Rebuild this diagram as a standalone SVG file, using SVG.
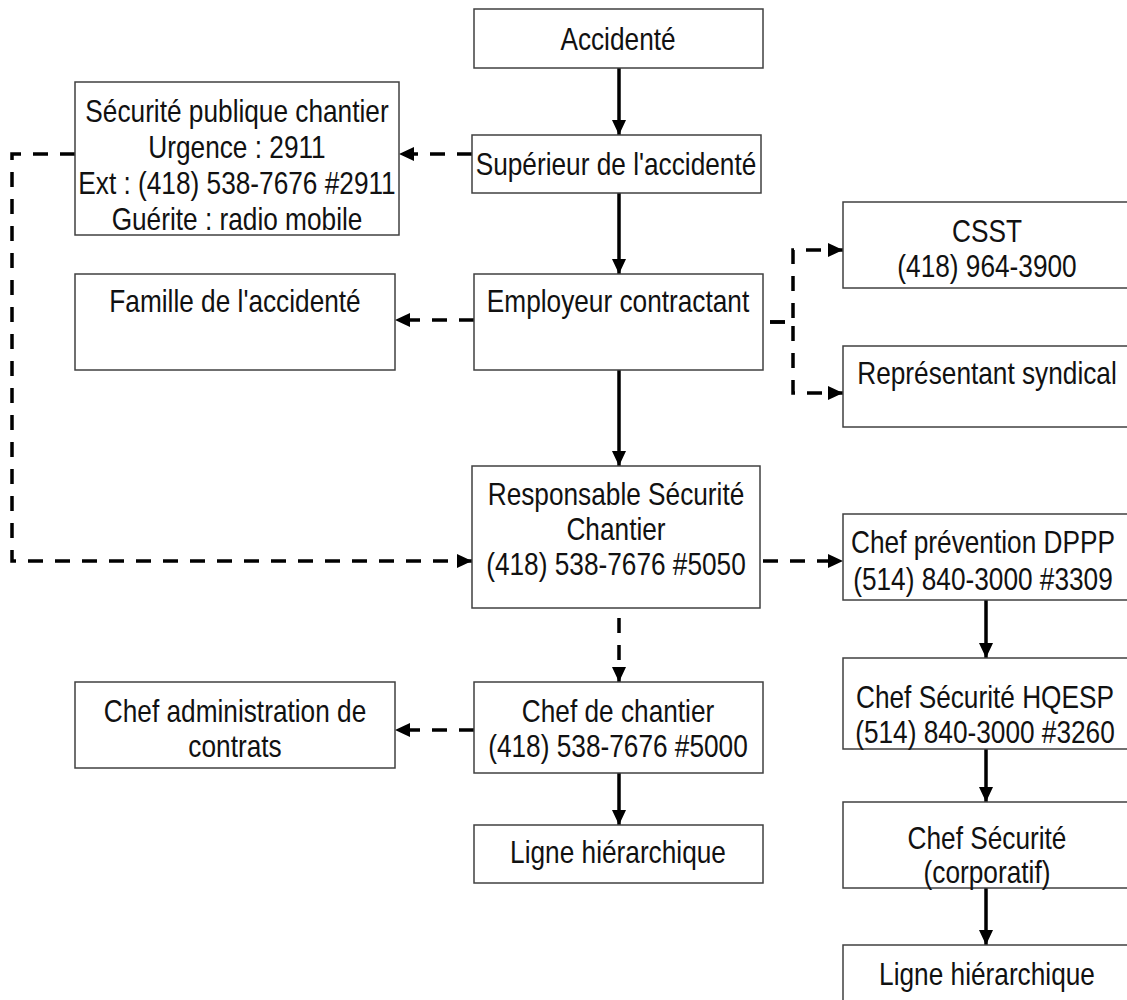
<svg xmlns="http://www.w3.org/2000/svg" width="1127" height="1000" viewBox="0 0 1127 1000">
<style>
.box{fill:#fff;stroke:#404040;stroke-width:1.5}
.t{font-family:"Liberation Sans",Arial,sans-serif;font-size:32px;fill:#111;text-anchor:middle}
.s{fill:none;stroke:#000;stroke-width:3.5}
.d{fill:none;stroke:#000;stroke-width:3.5;stroke-dasharray:15 12}
</style>
<defs>
<marker id="ah" viewBox="0 0 15 14" refX="15" refY="7" markerWidth="15" markerHeight="14" markerUnits="userSpaceOnUse" orient="auto">
<path d="M0,0 L15,7 L0,14 z" fill="#000"/>
</marker>
</defs>
<rect width="1127" height="1000" fill="#fff"/>
<g id="connectors">
<line class="s" x1="619" y1="68" x2="619" y2="135" marker-end="url(#ah)"/>
<line class="s" x1="619" y1="193" x2="619" y2="274" marker-end="url(#ah)"/>
<line class="s" x1="619" y1="370" x2="619" y2="466" marker-end="url(#ah)"/>
<line class="d" x1="619" y1="618" x2="619" y2="682" marker-end="url(#ah)"/>
<line class="s" x1="619" y1="773" x2="619" y2="825" marker-end="url(#ah)"/>
<line class="d" x1="472" y1="154" x2="399" y2="154" marker-end="url(#ah)"/>
<path class="d" d="M75,154 H12 V561 H472" marker-end="url(#ah)"/>
<line class="d" x1="474" y1="320" x2="395" y2="320" marker-end="url(#ah)"/>
<path class="d" d="M770,322 H793 V250 H843" marker-end="url(#ah)"/>
<path class="d" d="M770,322 H793 V393 H843" marker-end="url(#ah)"/>
<line class="d" x1="763" y1="561" x2="843" y2="561" marker-end="url(#ah)"/>
<line class="d" x1="474" y1="730" x2="395" y2="730" marker-end="url(#ah)"/>
<line class="s" x1="986" y1="600" x2="986" y2="658" marker-end="url(#ah)"/>
<line class="s" x1="986" y1="749" x2="986" y2="802" marker-end="url(#ah)"/>
<line class="s" x1="986" y1="888" x2="986" y2="945" marker-end="url(#ah)"/>
</g>
<g id="accidente"><rect class="box" x="474" y="9" width="289" height="59"/><text class="t" transform="matrix(0.82 0 0 1 618 50)">Accidenté</text></g>
<g id="superieur"><rect class="box" x="472" y="135" width="289" height="58"/><text class="t" transform="matrix(0.82 0 0 1 616 175)">Supérieur de l'accidenté</text></g>
<g id="securite-publique"><rect class="box" x="75" y="82" width="324" height="153"/>
<text class="t" transform="matrix(0.82 0 0 1 237 122)">Sécurité publique chantier</text>
<text class="t" transform="matrix(0.82 0 0 1 237 158)">Urgence : 2911</text>
<text class="t" transform="matrix(0.82 0 0 1 237 194)">Ext : (418) 538-7676 #2911</text>
<text class="t" transform="matrix(0.82 0 0 1 237 230)">Guérite : radio mobile</text></g>
<g id="famille"><rect class="box" x="75" y="274" width="320" height="96"/><text class="t" transform="matrix(0.82 0 0 1 235 312)">Famille de l'accidenté</text></g>
<g id="employeur"><rect class="box" x="474" y="274" width="289" height="96"/><text class="t" transform="matrix(0.82 0 0 1 618 312)">Employeur contractant</text></g>
<g id="csst"><rect class="box" x="843" y="202" width="290" height="86"/>
<text class="t" transform="matrix(0.82 0 0 1 987 242)">CSST</text>
<text class="t" transform="matrix(0.82 0 0 1 987 277)">(418) 964-3900</text></g>
<g id="representant"><rect class="box" x="843" y="346" width="290" height="81"/><text class="t" transform="matrix(0.82 0 0 1 987 384)">Représentant syndical</text></g>
<g id="responsable"><rect class="box" x="472" y="466" width="288" height="142"/>
<text class="t" transform="matrix(0.82 0 0 1 616 505)">Responsable Sécurité</text>
<text class="t" transform="matrix(0.82 0 0 1 616 540)">Chantier</text>
<text class="t" transform="matrix(0.82 0 0 1 616 575)">(418) 538-7676 #5050</text></g>
<g id="chef-prevention"><rect class="box" x="843" y="514" width="290" height="86"/>
<text class="t" transform="matrix(0.82 0 0 1 983 553)">Chef prévention DPPP</text>
<text class="t" transform="matrix(0.82 0 0 1 983 590)">(514) 840-3000 #3309</text></g>
<g id="chef-admin"><rect class="box" x="75" y="682" width="320" height="86"/>
<text class="t" transform="matrix(0.82 0 0 1 235 722)">Chef administration de</text>
<text class="t" transform="matrix(0.82 0 0 1 235 757)">contrats</text></g>
<g id="chef-chantier"><rect class="box" x="474" y="682" width="289" height="91"/>
<text class="t" transform="matrix(0.82 0 0 1 618 722)">Chef de chantier</text>
<text class="t" transform="matrix(0.82 0 0 1 618 757)">(418) 538-7676 #5000</text></g>
<g id="ligne-1"><rect class="box" x="474" y="825" width="289" height="58"/><text class="t" transform="matrix(0.82 0 0 1 618 863)">Ligne hiérarchique</text></g>
<g id="chef-hqesp"><rect class="box" x="843" y="658" width="290" height="91"/>
<text class="t" transform="matrix(0.82 0 0 1 985 708)">Chef Sécurité HQESP</text>
<text class="t" transform="matrix(0.82 0 0 1 985 743)">(514) 840-3000 #3260</text></g>
<g id="chef-securite"><rect class="box" x="843" y="802" width="290" height="86"/>
<text class="t" transform="matrix(0.82 0 0 1 987 849)">Chef Sécurité</text>
<text class="t" transform="matrix(0.82 0 0 1 987 883)">(corporatif)</text></g>
<g id="ligne-2"><rect class="box" x="843" y="945" width="290" height="70"/><text class="t" transform="matrix(0.82 0 0 1 987 985)">Ligne hiérarchique</text></g>
</svg>
